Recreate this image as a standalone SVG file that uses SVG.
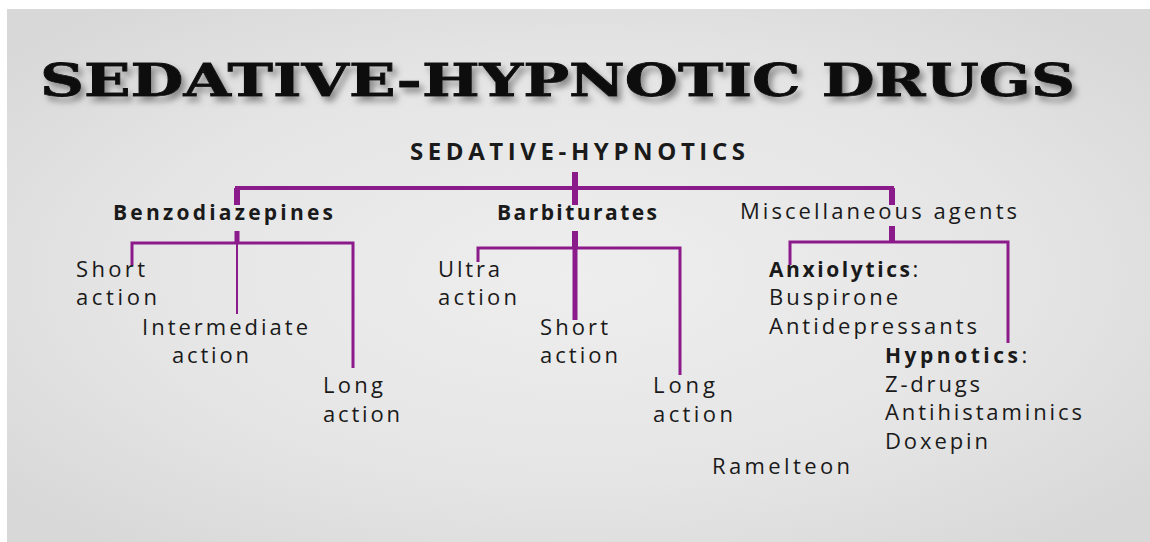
<svg xmlns="http://www.w3.org/2000/svg" width="1150" height="542" viewBox="0 0 1150 542">
<defs>
<radialGradient id="bg" cx="50%" cy="50%" r="65%">
<stop offset="0" stop-color="#eeeeee"/>
<stop offset="0.6" stop-color="#e5e5e5"/>
<stop offset="1" stop-color="#d8d8d8"/>
</radialGradient>
<filter id="shadow" x="-5%" y="-30%" width="110%" height="170%">
<feGaussianBlur in="SourceAlpha" stdDeviation="3" result="b"/>
<feOffset in="b" dx="4" dy="5" result="o"/>
<feFlood flood-color="#666" flood-opacity="0.7"/>
<feComposite in2="o" operator="in" result="s"/>
<feMerge><feMergeNode in="s"/><feMergeNode in="SourceGraphic"/></feMerge>
</filter>
</defs>
<style>
.t{font-family:"Open Sans","DejaVu Sans",sans-serif;font-size:22px;fill:#1a1a1a}
.b{font-weight:bold;font-size:21px}
.ln{stroke:#8b1a8b;fill:none;stroke-linecap:butt}
</style>
<rect x="0" y="0" width="1150" height="542" fill="#ffffff"/>
<rect x="7" y="9" width="1143" height="533" fill="url(#bg)"/>
<text x="40" y="96" font-family="'DejaVu Serif',serif" font-weight="bold" font-size="45" fill="#111" stroke="#111" stroke-width="0.8" textLength="1035" lengthAdjust="spacingAndGlyphs" filter="url(#shadow)">SEDATIVE-HYPNOTIC DRUGS</text>

<g id="connectors">
<path class="ln" stroke-width="4" d="M237,205 V188 H892 V205"/>
<line class="ln" stroke-width="6" x1="575" y1="172" x2="575" y2="205"/>
<line class="ln" stroke-width="6" x1="237" y1="188" x2="237" y2="205"/>
<line class="ln" stroke-width="6" x1="892" y1="188" x2="892" y2="205"/>
<line class="ln" stroke-width="5" x1="237" y1="231" x2="237" y2="243"/>
<path class="ln" stroke-width="3" d="M132,265 V243 H353 V368"/>
<line class="ln" stroke-width="2" x1="237" y1="243" x2="237" y2="314"/>
<line class="ln" stroke-width="6" x1="575" y1="231" x2="575" y2="248"/>
<path class="ln" stroke-width="3" d="M478,262 V248 H680 V375"/>
<line class="ln" stroke-width="5" x1="575" y1="248" x2="575" y2="320"/>
<line class="ln" stroke-width="6" x1="892" y1="226" x2="892" y2="242"/>
<path class="ln" stroke-width="3" d="M790,265 V242 H1008 V343"/>
</g>

<g id="root"><text class="t b" x="410" y="160" style="font-size:24px" textLength="335" lengthAdjust="spacing">SEDATIVE-HYPNOTICS</text></g>
<g id="benzodiazepines"><text class="t b" x="113" y="220" textLength="220" lengthAdjust="spacing">Benzodiazepines</text></g>
<g id="barbiturates"><text class="t b" x="497" y="220" textLength="160" lengthAdjust="spacing">Barbiturates</text></g>
<g id="misc"><text class="t" x="740" y="219" textLength="277" lengthAdjust="spacing">Miscellaneous agents</text></g>

<g id="bz-short"><text class="t" x="76" y="277" textLength="69" lengthAdjust="spacing">Short</text><text class="t" x="76" y="305" textLength="81" lengthAdjust="spacing">action</text></g>
<g id="bz-intermediate"><text class="t" x="142" y="335" textLength="166" lengthAdjust="spacing">Intermediate</text><text class="t" x="172" y="363" textLength="77" lengthAdjust="spacing">action</text></g>
<g id="bz-long"><text class="t" x="323" y="393" textLength="60" lengthAdjust="spacing">Long</text><text class="t" x="323" y="422" textLength="77" lengthAdjust="spacing">action</text></g>

<g id="bb-ultra"><text class="t" x="438" y="277" textLength="62" lengthAdjust="spacing">Ultra</text><text class="t" x="438" y="305" textLength="79" lengthAdjust="spacing">action</text></g>
<g id="bb-short"><text class="t" x="540" y="335" textLength="68" lengthAdjust="spacing">Short</text><text class="t" x="540" y="363" textLength="78" lengthAdjust="spacing">action</text></g>
<g id="bb-long"><text class="t" x="653" y="393" textLength="62" lengthAdjust="spacing">Long</text><text class="t" x="653" y="422" textLength="80" lengthAdjust="spacing">action</text></g>

<g id="anxiolytics">
<text class="t" x="769" y="277"><tspan class="b" textLength="141" lengthAdjust="spacing">Anxiolytics</tspan><tspan>:</tspan></text>
<text class="t" x="769" y="305" textLength="129" lengthAdjust="spacing">Buspirone</text>
<text class="t" x="769" y="334" textLength="208" lengthAdjust="spacing">Antidepressants</text>
</g>
<g id="hypnotics">
<text class="t" x="885" y="363"><tspan class="b" textLength="133" lengthAdjust="spacing">Hypnotics</tspan><tspan>:</tspan></text>
<text class="t" x="885" y="392" textLength="95" lengthAdjust="spacing">Z-drugs</text>
<text class="t" x="885" y="420" textLength="197" lengthAdjust="spacing">Antihistaminics</text>
<text class="t" x="885" y="449" textLength="103" lengthAdjust="spacing">Doxepin</text>
</g>
<g id="ramelteon"><text class="t" x="712" y="474" textLength="138" lengthAdjust="spacing">Ramelteon</text></g>
</svg>
